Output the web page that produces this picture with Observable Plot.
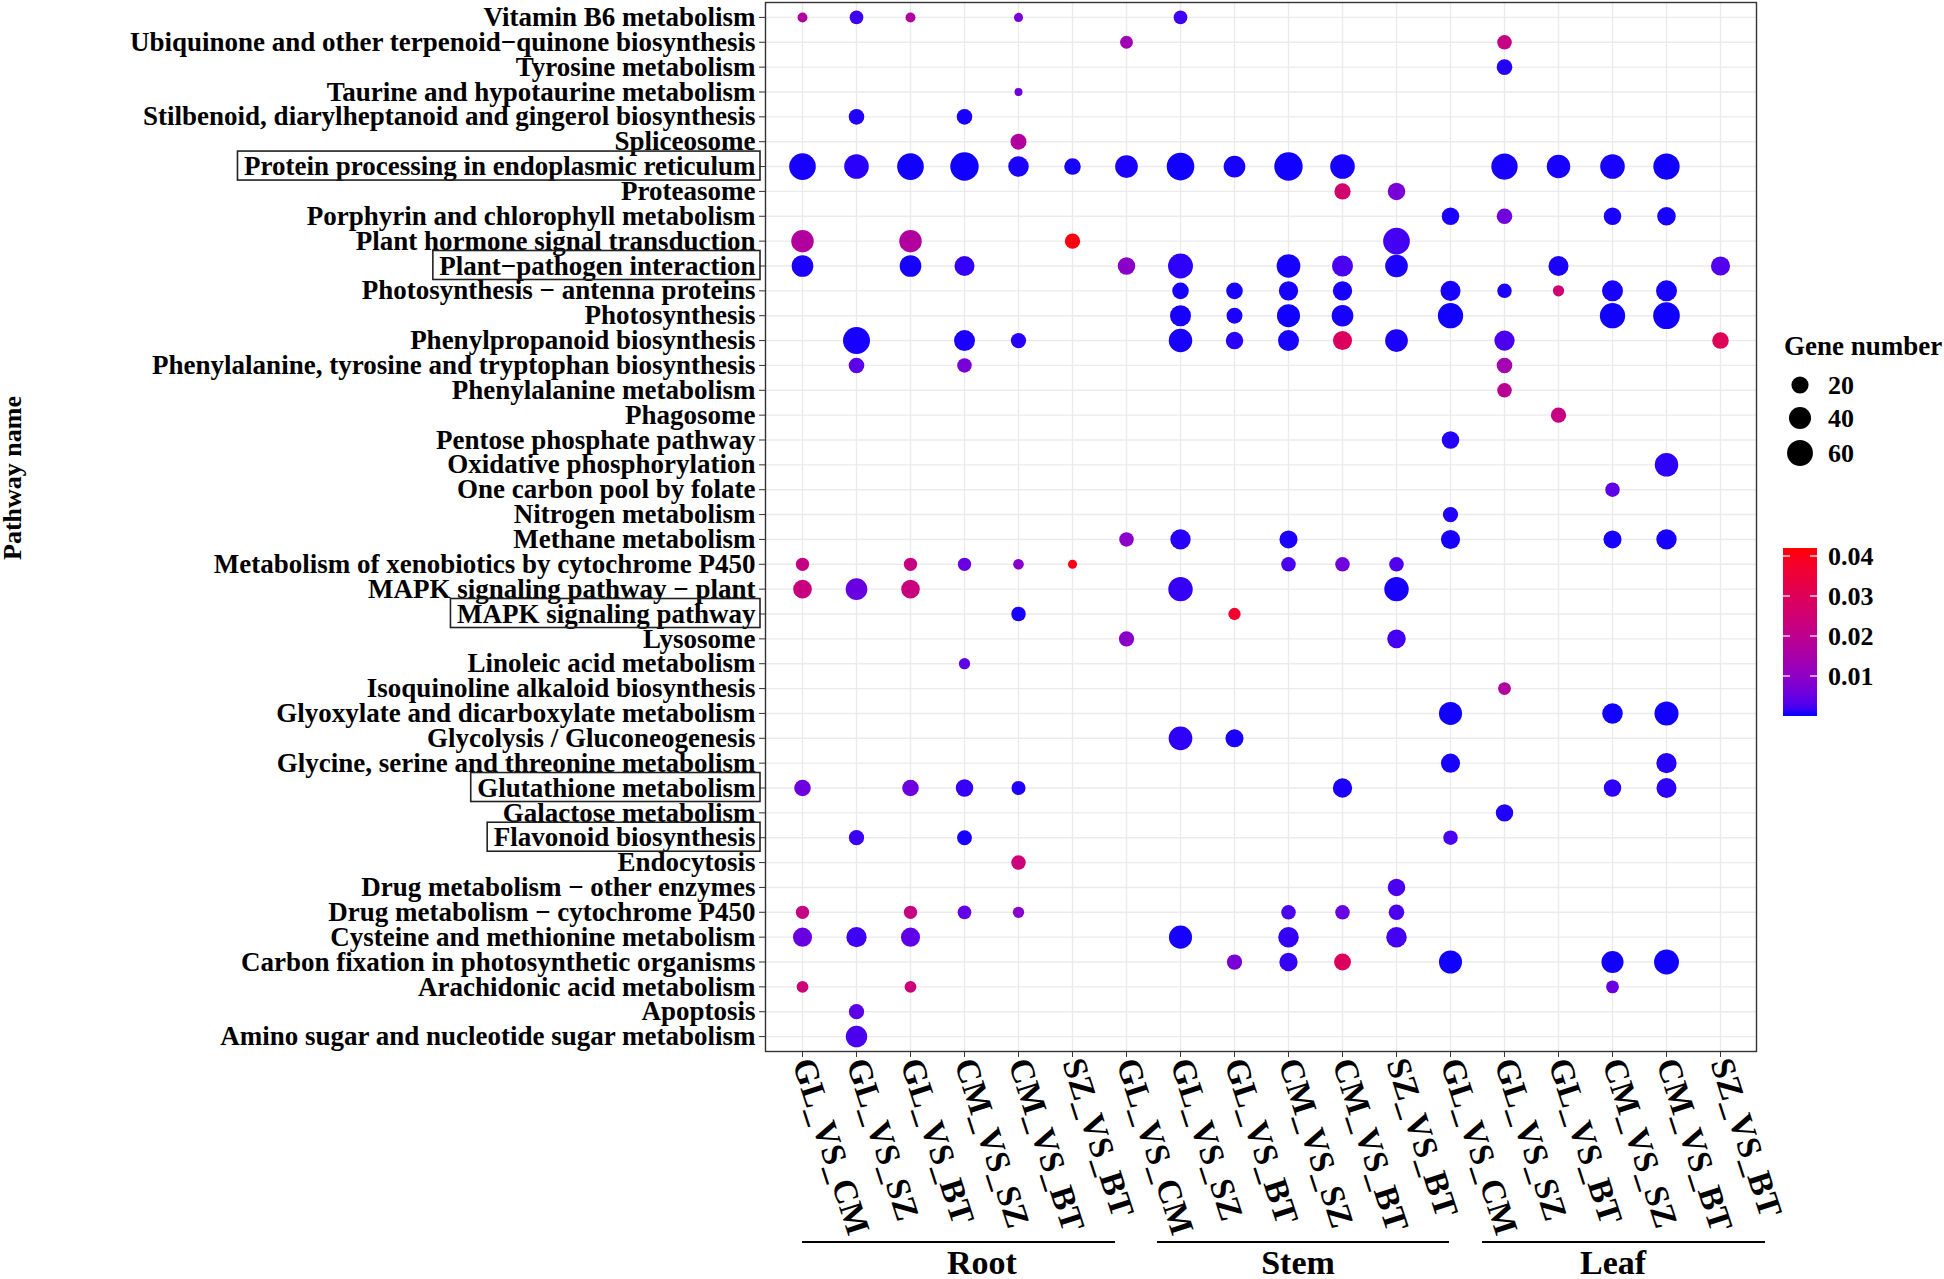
<!DOCTYPE html>
<html><head><meta charset="utf-8">
<script src="https://cdn.jsdelivr.net/npm/d3@7"></script>
<script src="https://cdn.jsdelivr.net/npm/@observablehq/plot@0.6"></script>
<style>body{margin:0;background:#fff;} svg{display:block}</style>
</head><body><div id="chart"></div>
<script>
// ---------- data ----------
const pathways = [
  "Vitamin B6 metabolism",
  "Ubiquinone and other terpenoid−quinone biosynthesis",
  "Tyrosine metabolism",
  "Taurine and hypotaurine metabolism",
  "Stilbenoid, diarylheptanoid and gingerol biosynthesis",
  "Spliceosome",
  "Protein processing in endoplasmic reticulum",
  "Proteasome",
  "Porphyrin and chlorophyll metabolism",
  "Plant hormone signal transduction",
  "Plant−pathogen interaction",
  "Photosynthesis − antenna proteins",
  "Photosynthesis",
  "Phenylpropanoid biosynthesis",
  "Phenylalanine, tyrosine and tryptophan biosynthesis",
  "Phenylalanine metabolism",
  "Phagosome",
  "Pentose phosphate pathway",
  "Oxidative phosphorylation",
  "One carbon pool by folate",
  "Nitrogen metabolism",
  "Methane metabolism",
  "Metabolism of xenobiotics by cytochrome P450",
  "MAPK signaling pathway − plant",
  "MAPK signaling pathway",
  "Lysosome",
  "Linoleic acid metabolism",
  "Isoquinoline alkaloid biosynthesis",
  "Glyoxylate and dicarboxylate metabolism",
  "Glycolysis / Gluconeogenesis",
  "Glycine, serine and threonine metabolism",
  "Glutathione metabolism",
  "Galactose metabolism",
  "Flavonoid biosynthesis",
  "Endocytosis",
  "Drug metabolism − other enzymes",
  "Drug metabolism − cytochrome P450",
  "Cysteine and methionine metabolism",
  "Carbon fixation in photosynthetic organisms",
  "Arachidonic acid metabolism",
  "Apoptosis",
  "Amino sugar and nucleotide sugar metabolism"
];
const boxedPathways = [
  "Protein processing in endoplasmic reticulum",
  "Plant−pathogen interaction",
  "MAPK signaling pathway",
  "Glutathione metabolism",
  "Flavonoid biosynthesis"
];
const tissues = ["Root", "Stem", "Leaf"];
const comparisons = ["GL_VS_CM", "GL_VS_SZ", "GL_VS_BT", "CM_VS_SZ", "CM_VS_BT", "SZ_VS_BT"];
const sizeLegendValues = [20, 40, 60];
const colorLegendTicks = [0.01, 0.02, 0.03, 0.04];

// [pathway, gene number, p value]
const root_GL_VS_CM = [
  ["Vitamin B6 metabolism", 3, 0.017],
  ["Protein processing in endoplasmic reticulum", 65, 0.0003],
  ["Plant hormone signal transduction", 42, 0.017],
  ["Plant−pathogen interaction", 38, 0.0004],
  ["Metabolism of xenobiotics by cytochrome P450", 9, 0.022],
  ["MAPK signaling pathway − plant", 25, 0.023],
  ["Glutathione metabolism", 18, 0.0055],
  ["Drug metabolism − cytochrome P450", 9, 0.022],
  ["Cysteine and methionine metabolism", 27, 0.005],
  ["Arachidonic acid metabolism", 6, 0.024]
];
const root_GL_VS_SZ = [
  ["Vitamin B6 metabolism", 10, 0.0017],
  ["Stilbenoid, diarylheptanoid and gingerol biosynthesis", 15, 0.0005],
  ["Protein processing in endoplasmic reticulum", 53, 0.0008],
  ["Phenylpropanoid biosynthesis", 67, 0.0003],
  ["Phenylalanine, tyrosine and tryptophan biosynthesis", 15, 0.0038],
  ["MAPK signaling pathway − plant", 38, 0.005],
  ["Flavonoid biosynthesis", 14, 0.0015],
  ["Cysteine and methionine metabolism", 32, 0.0018],
  ["Apoptosis", 14, 0.0038],
  ["Amino sugar and nucleotide sugar metabolism", 37, 0.0025]
];
const root_GL_VS_BT = [
  ["Vitamin B6 metabolism", 3, 0.017],
  ["Protein processing in endoplasmic reticulum", 65, 0.0002],
  ["Plant hormone signal transduction", 42, 0.017],
  ["Plant−pathogen interaction", 38, 0.0003],
  ["Metabolism of xenobiotics by cytochrome P450", 9, 0.022],
  ["MAPK signaling pathway − plant", 25, 0.023],
  ["Glutathione metabolism", 18, 0.0055],
  ["Drug metabolism − cytochrome P450", 9, 0.022],
  ["Cysteine and methionine metabolism", 27, 0.004],
  ["Arachidonic acid metabolism", 6, 0.024]
];
const root_CM_VS_SZ = [
  ["Stilbenoid, diarylheptanoid and gingerol biosynthesis", 15, 0.0003],
  ["Protein processing in endoplasmic reticulum", 76, 0.0002],
  ["Plant−pathogen interaction", 31, 0.0012],
  ["Phenylpropanoid biosynthesis", 35, 0.0004],
  ["Phenylalanine, tyrosine and tryptophan biosynthesis", 12, 0.007],
  ["Metabolism of xenobiotics by cytochrome P450", 9, 0.005],
  ["Linoleic acid metabolism", 5, 0.004],
  ["Glutathione metabolism", 21, 0.0013],
  ["Flavonoid biosynthesis", 13, 0.0003],
  ["Drug metabolism − cytochrome P450", 10, 0.0045]
];
const root_CM_VS_BT = [
  ["Vitamin B6 metabolism", 2, 0.007],
  ["Taurine and hypotaurine metabolism", 1, 0.006],
  ["Spliceosome", 16, 0.017],
  ["Protein processing in endoplasmic reticulum", 33, 0.0004],
  ["Phenylpropanoid biosynthesis", 14, 0.0007],
  ["Metabolism of xenobiotics by cytochrome P450", 4, 0.009],
  ["MAPK signaling pathway", 12, 0.0003],
  ["Glutathione metabolism", 11, 0.0005],
  ["Endocytosis", 12, 0.024],
  ["Drug metabolism − cytochrome P450", 5, 0.009]
];
const root_SZ_VS_BT = [
  ["Protein processing in endoplasmic reticulum", 18, 0.0003],
  ["Plant hormone signal transduction", 14, 0.041],
  ["Metabolism of xenobiotics by cytochrome P450", 2, 0.040]
];
const stem_GL_VS_CM = [
  ["Ubiquinone and other terpenoid−quinone biosynthesis", 8, 0.013],
  ["Protein processing in endoplasmic reticulum", 43, 0.0004],
  ["Plant−pathogen interaction", 21, 0.0095],
  ["Methane metabolism", 12, 0.0095],
  ["Lysosome", 14, 0.0095]
];
const stem_GL_VS_SZ = [
  ["Vitamin B6 metabolism", 10, 0.0018],
  ["Protein processing in endoplasmic reticulum", 71, 0.0002],
  ["Plant−pathogen interaction", 55, 0.001],
  ["Photosynthesis − antenna proteins", 18, 0.0003],
  ["Photosynthesis", 35, 0.0003],
  ["Phenylpropanoid biosynthesis", 47, 0.0003],
  ["Methane metabolism", 32, 0.0007],
  ["MAPK signaling pathway − plant", 52, 0.0013],
  ["Glycolysis / Gluconeogenesis", 48, 0.001],
  ["Cysteine and methionine metabolism", 45, 0.0003]
];
const stem_GL_VS_BT = [
  ["Protein processing in endoplasmic reticulum", 38, 0.0003],
  ["Photosynthesis − antenna proteins", 18, 0.0003],
  ["Photosynthesis", 16, 0.0004],
  ["Phenylpropanoid biosynthesis", 21, 0.0008],
  ["MAPK signaling pathway", 7, 0.037],
  ["Glycolysis / Gluconeogenesis", 23, 0.0004],
  ["Carbon fixation in photosynthetic organisms", 14, 0.007]
];
const stem_CM_VS_SZ = [
  ["Protein processing in endoplasmic reticulum", 76, 0.0002],
  ["Plant−pathogen interaction", 48, 0.0003],
  ["Photosynthesis − antenna proteins", 28, 0.0003],
  ["Photosynthesis", 45, 0.0002],
  ["Phenylpropanoid biosynthesis", 35, 0.0003],
  ["Methane metabolism", 23, 0.0004],
  ["Metabolism of xenobiotics by cytochrome P450", 12, 0.0025],
  ["Drug metabolism − cytochrome P450", 12, 0.0025],
  ["Cysteine and methionine metabolism", 33, 0.0013],
  ["Carbon fixation in photosynthetic organisms", 24, 0.0013]
];
const stem_CM_VS_BT = [
  ["Protein processing in endoplasmic reticulum", 53, 0.0003],
  ["Proteasome", 17, 0.026],
  ["Plant−pathogen interaction", 35, 0.0025],
  ["Photosynthesis − antenna proteins", 28, 0.0003],
  ["Photosynthesis", 38, 0.0003],
  ["Phenylpropanoid biosynthesis", 27, 0.029],
  ["Metabolism of xenobiotics by cytochrome P450", 12, 0.006],
  ["Glutathione metabolism", 28, 0.0004],
  ["Drug metabolism − cytochrome P450", 12, 0.005],
  ["Carbon fixation in photosynthetic organisms", 19, 0.029]
];
const stem_SZ_VS_BT = [
  ["Proteasome", 21, 0.007],
  ["Plant hormone signal transduction", 65, 0.002],
  ["Plant−pathogen interaction", 43, 0.0004],
  ["Phenylpropanoid biosynthesis", 43, 0.0004],
  ["Metabolism of xenobiotics by cytochrome P450", 12, 0.0028],
  ["MAPK signaling pathway − plant", 52, 0.0003],
  ["Lysosome", 25, 0.002],
  ["Drug metabolism − other enzymes", 21, 0.0025],
  ["Drug metabolism − cytochrome P450", 15, 0.0025],
  ["Cysteine and methionine metabolism", 33, 0.002]
];
const leaf_GL_VS_CM = [
  ["Porphyrin and chlorophyll metabolism", 21, 0.0004],
  ["Photosynthesis − antenna proteins", 31, 0.0003],
  ["Photosynthesis", 57, 0.0002],
  ["Pentose phosphate pathway", 21, 0.0006],
  ["Nitrogen metabolism", 14, 0.0005],
  ["Methane metabolism", 27, 0.0003],
  ["Glyoxylate and dicarboxylate metabolism", 45, 0.0002],
  ["Glycine, serine and threonine metabolism", 27, 0.0003],
  ["Flavonoid biosynthesis", 12, 0.0025],
  ["Carbon fixation in photosynthetic organisms", 45, 0.0002]
];
const leaf_GL_VS_SZ = [
  ["Ubiquinone and other terpenoid−quinone biosynthesis", 12, 0.022],
  ["Tyrosine metabolism", 15, 0.0006],
  ["Protein processing in endoplasmic reticulum", 63, 0.0003],
  ["Porphyrin and chlorophyll metabolism", 15, 0.006],
  ["Photosynthesis − antenna proteins", 12, 0.0004],
  ["Phenylpropanoid biosynthesis", 32, 0.0025],
  ["Phenylalanine, tyrosine and tryptophan biosynthesis", 15, 0.014],
  ["Phenylalanine metabolism", 12, 0.019],
  ["Isoquinoline alkaloid biosynthesis", 8, 0.017],
  ["Galactose metabolism", 21, 0.0005]
];
const leaf_GL_VS_BT = [
  ["Protein processing in endoplasmic reticulum", 47, 0.0003],
  ["Plant−pathogen interaction", 31, 0.0004],
  ["Photosynthesis − antenna proteins", 5, 0.025],
  ["Phagosome", 14, 0.022]
];
const leaf_CM_VS_SZ = [
  ["Protein processing in endoplasmic reticulum", 53, 0.0003],
  ["Porphyrin and chlorophyll metabolism", 21, 0.0004],
  ["Photosynthesis − antenna proteins", 35, 0.0003],
  ["Photosynthesis", 57, 0.0002],
  ["One carbon pool by folate", 12, 0.004],
  ["Methane metabolism", 23, 0.0003],
  ["Glyoxylate and dicarboxylate metabolism", 33, 0.0002],
  ["Glutathione metabolism", 21, 0.001],
  ["Carbon fixation in photosynthetic organisms", 40, 0.0002],
  ["Arachidonic acid metabolism", 8, 0.005]
];
const leaf_CM_VS_BT = [
  ["Protein processing in endoplasmic reticulum", 63, 0.0002],
  ["Porphyrin and chlorophyll metabolism", 25, 0.0003],
  ["Photosynthesis − antenna proteins", 35, 0.0003],
  ["Photosynthesis", 65, 0.0002],
  ["Oxidative phosphorylation", 47, 0.001],
  ["Methane metabolism", 32, 0.0003],
  ["Glyoxylate and dicarboxylate metabolism", 50, 0.0002],
  ["Glycine, serine and threonine metabolism", 32, 0.0007],
  ["Glutathione metabolism", 31, 0.001],
  ["Carbon fixation in photosynthetic organisms", 55, 0.0002]
];
const leaf_SZ_VS_BT = [
  ["Plant−pathogen interaction", 27, 0.003],
  ["Phenylpropanoid biosynthesis", 18, 0.03]
];

const columnTables = [
  ["Root", "GL_VS_CM", root_GL_VS_CM], ["Root", "GL_VS_SZ", root_GL_VS_SZ], ["Root", "GL_VS_BT", root_GL_VS_BT],
  ["Root", "CM_VS_SZ", root_CM_VS_SZ], ["Root", "CM_VS_BT", root_CM_VS_BT], ["Root", "SZ_VS_BT", root_SZ_VS_BT],
  ["Stem", "GL_VS_CM", stem_GL_VS_CM], ["Stem", "GL_VS_SZ", stem_GL_VS_SZ], ["Stem", "GL_VS_BT", stem_GL_VS_BT],
  ["Stem", "CM_VS_SZ", stem_CM_VS_SZ], ["Stem", "CM_VS_BT", stem_CM_VS_BT], ["Stem", "SZ_VS_BT", stem_SZ_VS_BT],
  ["Leaf", "GL_VS_CM", leaf_GL_VS_CM], ["Leaf", "GL_VS_SZ", leaf_GL_VS_SZ], ["Leaf", "GL_VS_BT", leaf_GL_VS_BT],
  ["Leaf", "CM_VS_SZ", leaf_CM_VS_SZ], ["Leaf", "CM_VS_BT", leaf_CM_VS_BT], ["Leaf", "SZ_VS_BT", leaf_SZ_VS_BT]
];

// ---------- build ----------
const keyOf = (t, c) => t + "|" + c;
const xDomain = tissues.flatMap(t => comparisons.map(c => keyOf(t, c)));
const dots = columnTables.flatMap(([t, c, rows]) =>
  rows.map(([pathway, genes, p]) => ({key: keyOf(t, c), pathway, genes, p})));

const FONT = "'Liberation Serif', 'Times New Roman', Times, serif";
const W = 1944, H = 1279;

const plot = Plot.plot({
  width: W, height: H,
  marginLeft: 765, marginRight: 188, marginTop: 2, marginBottom: 228,
  style: {fontFamily: FONT, fontWeight: "bold", fontSize: "27px", color: "#000", background: "#fff", overflow: "visible"},
  x: {type: "point", domain: xDomain, padding: 0.6, label: null},
  y: {type: "point", domain: pathways, padding: 0.6, label: null},
  r: {type: "pow", exponent: 0.5, domain: [1, 80], range: [4, 14.5]},
  color: {type: "linear", domain: [0, 0.042], range: ["blue", "red"], interpolate: "lab"},
  marks: [
    Plot.gridX({stroke: "#EBEBEB", strokeOpacity: 1, strokeWidth: 1.4}),
    Plot.gridY({stroke: "#EBEBEB", strokeOpacity: 1, strokeWidth: 1.4}),
    Plot.frame({stroke: "#333", strokeWidth: 1.4}),
    Plot.dot(dots, {x: "key", y: "pathway", r: "genes", fill: "p", stroke: null}),
    Plot.axisY({tickSize: 6, tickPadding: 4, stroke: "#333", fontSize: 27, label: null}),
    Plot.axisX({tickSize: 6, tickPadding: 2, tickRotate: 72, fontSize: 34, stroke: "#333",
      tickFormat: d => d.split("|")[1], label: null})
  ]
});
document.getElementById("chart").appendChild(plot);

const svg = d3.select(plot);
const xs = plot.scale("x"), ys = plot.scale("y"), rs = plot.scale("r"), cs = plot.scale("color");

// y-axis title
svg.append("text").attr("transform", "translate(21,478) rotate(-90)")
  .attr("text-anchor", "middle").attr("font-size", 26).attr("font-weight", "bold")
  .attr("font-family", FONT).text("Pathway name");

// boxes around highlighted pathways
const labelTexts = Array.from(plot.querySelectorAll("text")).filter(t => pathways.includes(t.textContent));
for (const name of boxedPathways) {
  const el = labelTexts.find(t => t.textContent === name);
  const w = el ? el.getComputedTextLength() : 200;
  const yc = ys.apply(name);
  const right = 760;
  const left = 755 - w - 6;
  svg.append("rect").attr("x", left).attr("y", yc - 15).attr("width", right - left).attr("height", 29)
    .attr("fill", "none").attr("stroke", "#222").attr("stroke-width", 1.6);
}

// tissue group lines and labels
const groupOffsets = {Root: [0, 43, 45], Stem: [31, 53, 37], Leaf: [32, 45, 28]};
for (const t of tissues) {
  const x0 = xs.apply(keyOf(t, comparisons[0]));
  const x1 = xs.apply(keyOf(t, comparisons[comparisons.length - 1]));
  const [o0, o1, oc] = groupOffsets[t];
  svg.append("line").attr("x1", x0 + o0).attr("x2", x1 + o1).attr("y1", 1242).attr("y2", 1242)
    .attr("stroke", "#000").attr("stroke-width", 2.2);
  svg.append("text").attr("x", (x0 + x1) / 2 + oc).attr("y", 1274).attr("text-anchor", "middle")
    .attr("font-size", 34).attr("font-weight", "bold").attr("font-family", FONT).text(t);
}

// size legend
const lg = svg.append("g").attr("font-family", FONT).attr("font-weight", "bold").attr("text-anchor", "start");
lg.append("text").attr("x", 1784).attr("y", 355).attr("font-size", 27).attr("text-anchor", "start").text("Gene number");
const legendY = [385, 418, 453];
sizeLegendValues.forEach((v, i) => {
  lg.append("circle").attr("cx", 1800).attr("cy", legendY[i]).attr("r", rs.apply(v)).attr("fill", "#000");
  lg.append("text").attr("x", 1828).attr("y", legendY[i]).attr("dy", "0.35em").attr("font-size", 26)
    .attr("text-anchor", "start").text(v);
});

// colour bar
const barTop = 548, barBottom = 716, barX = 1783, barW = 34;
const dom = cs.domain;
const barScale = d3.scaleLinear().domain(dom).range([barBottom, barTop]);
const defs = svg.append("defs");
const grad = defs.append("linearGradient").attr("id", "pgrad").attr("x1", 0).attr("x2", 0).attr("y1", 1).attr("y2", 0);
d3.range(0, 21).forEach(i => {
  const v = dom[0] + (dom[1] - dom[0]) * i / 20;
  grad.append("stop").attr("offset", (i / 20 * 100) + "%").attr("stop-color", cs.apply(v));
});
lg.append("rect").attr("x", barX).attr("y", barTop).attr("width", barW).attr("height", barBottom - barTop)
  .attr("fill", "url(#pgrad)");
colorLegendTicks.forEach(v => {
  const y = barScale(v);
  lg.append("line").attr("x1", barX).attr("x2", barX + 7).attr("y1", y).attr("y2", y).attr("stroke", "#fff").attr("stroke-width", 1.2);
  lg.append("line").attr("x1", barX + barW - 7).attr("x2", barX + barW).attr("y1", y).attr("y2", y).attr("stroke", "#fff").attr("stroke-width", 1.2);
  lg.append("text").attr("x", 1828).attr("y", y).attr("dy", "0.35em").attr("font-size", 26)
    .attr("text-anchor", "start").text(v.toFixed(2));
});
</script>
</body></html>
